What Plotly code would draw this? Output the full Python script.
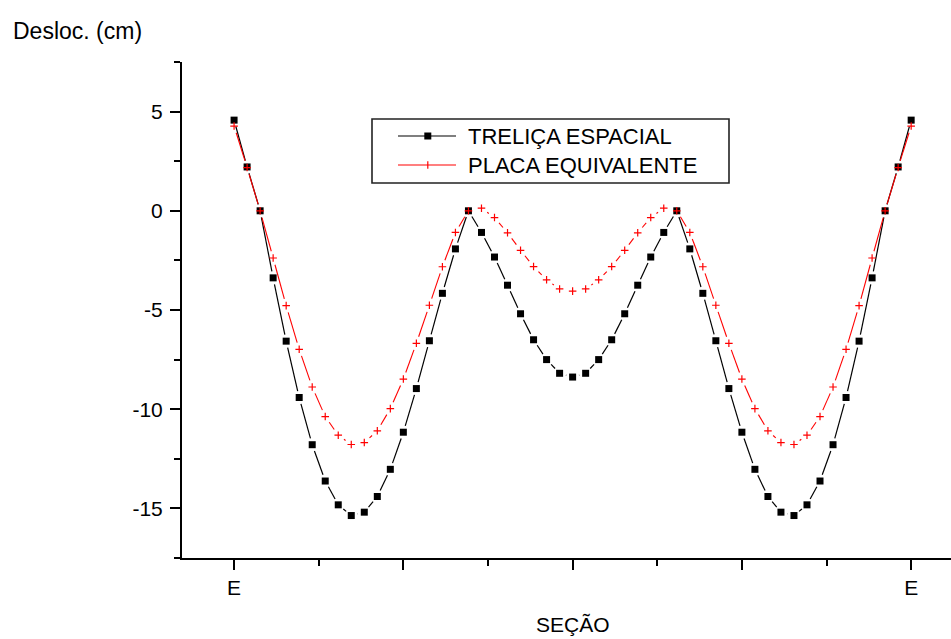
import math
import plotly.graph_objects as go

# Section index along the span (E ... E)
secao = list(range(53))

# Vertical displacement (cm) – space truss model
trelica = [4.57, 2.21, 0.00, -3.38, -6.57, -9.41, -11.79, -13.62, -14.82, -15.36,
           -15.19, -14.40, -13.03, -11.16, -8.96, -6.55, -4.16, -1.92, 0.00, -1.09,
           -2.33, -3.75, -5.19, -6.50, -7.50, -8.19, -8.38, -8.19, -7.50, -6.50,
           -5.19, -3.75, -2.33, -1.09, 0.00, -1.92, -4.16, -6.55, -8.96, -11.16,
           -13.03, -14.40, -15.19, -15.36, -14.82, -13.62, -11.79, -9.41, -6.57, -3.38,
           0.00, 2.21, 4.57]

# Vertical displacement (cm) – equivalent plate model
placa = [4.27, 2.18, 0.00, -2.38, -4.78, -6.98, -8.88, -10.37, -11.31, -11.78,
         -11.68, -11.09, -9.97, -8.48, -6.68, -4.76, -2.82, -1.09, 0.00, 0.13,
         -0.34, -1.11, -1.99, -2.81, -3.48, -3.94, -4.05, -3.94, -3.48, -2.81,
         -1.99, -1.11, -0.34, 0.13, 0.00, -1.09, -2.82, -4.76, -6.68, -8.48,
         -9.97, -11.09, -11.68, -11.78, -11.31, -10.37, -8.88, -6.98, -4.78, -2.38,
         0.00, 2.18, 4.27]

x_tickvals = [0, 13, 26, 39, 52]
x_ticktext = ["E", "", "", "", "E"]
x_minor = [6.5, 19.5, 32.5, 45.5]

y_tickvals = [-15, -10, -5, 0, 5]
y_ticktext = ["-15", "-10", "-5", "0", "5"]

series_names = ["TRELIÇA ESPACIAL", "PLACA EQUIVALENTE"]

# Canvas / plot-area geometry (pixels)
W, H = 951, 639
ML, MR, MT, MB = 182, 0, 62, 81
PW, PH = W - ML - MR, H - MT - MB
XR = [-4.0, 55.06]
YR = [-17.5, 7.5]
SX = PW / (XR[1] - XR[0])
SY = PH / (YR[1] - YR[0])

FONT = "Liberation Sans, Arial, sans-serif"
FS = 21


def gapped_segments(xs, ys, gap):
    """Connect consecutive points, leaving a pixel gap around each symbol."""
    gx, gy = [], []
    for i in range(len(xs) - 1):
        dxp = (xs[i + 1] - xs[i]) * SX
        dyp = (ys[i + 1] - ys[i]) * SY
        length = math.hypot(dxp, dyp)
        if length <= 2 * gap:
            continue
        f = gap / length
        gx += [xs[i] + (xs[i + 1] - xs[i]) * f, xs[i + 1] - (xs[i + 1] - xs[i]) * f, None]
        gy += [ys[i] + (ys[i + 1] - ys[i]) * f, ys[i + 1] - (ys[i + 1] - ys[i]) * f, None]
    return gx, gy


def px_x(p):
    return (p - ML) / PW


def px_y(p):
    return (H - MB - p) / PH


fig = go.Figure()

# Space truss: line + filled squares
lx, ly = gapped_segments(secao, trelica, 6.6)
fig.add_trace(go.Scatter(x=lx, y=ly, mode="lines",
                         line=dict(color="black", width=1.2),
                         hoverinfo="skip", showlegend=False))
fig.add_trace(go.Scatter(x=secao, y=trelica, mode="markers", name=series_names[0],
                         marker=dict(symbol="square", size=7, color="black",
                                     line=dict(width=0)),
                         showlegend=False))

# Equivalent plate: line + thin crosses
lx, ly = gapped_segments(secao, placa, 7.0)
fig.add_trace(go.Scatter(x=lx, y=ly, mode="lines",
                         line=dict(color="red", width=1.1),
                         hoverinfo="skip", showlegend=False))
fig.add_trace(go.Scatter(x=secao, y=placa, mode="markers", name=series_names[1],
                         marker=dict(symbol="cross-thin-open", size=5.4, color="red",
                                     line=dict(color="red", width=1.2)),
                         showlegend=False))

# Legend box drawn in plot-area coordinates
shapes = [
    dict(type="rect", xref="paper", yref="paper",
         x0=px_x(372), x1=px_x(729), y0=px_y(183), y1=px_y(119),
         line=dict(color="#222222", width=1.6), fillcolor="white", layer="above"),
]
annotations = []
rows = [(136, "black", series_names[0]), (165, "red", series_names[1])]
for yrow, col, label in rows:
    shapes.append(dict(type="line", xref="paper", yref="paper",
                       x0=px_x(398), x1=px_x(456), y0=px_y(yrow), y1=px_y(yrow),
                       line=dict(color=col, width=1.2), layer="above"))
    annotations.append(dict(xref="paper", yref="paper", x=px_x(466), y=px_y(yrow),
                            text=label, showarrow=False, xanchor="left", yanchor="middle",
                            font=dict(family=FONT, size=22, color="black")))
# legend symbols
shapes.append(dict(type="rect", xref="paper", yref="paper",
                   x0=px_x(424.3), x1=px_x(431.3), y0=px_y(139.5), y1=px_y(132.5),
                   line=dict(width=0), fillcolor="black", layer="above"))
shapes.append(dict(type="line", xref="paper", yref="paper",
                   x0=px_x(427.8), x1=px_x(427.8), y0=px_y(168.8), y1=px_y(161.2),
                   line=dict(color="red", width=1.2), layer="above"))

# Axis titles
annotations.append(dict(xref="paper", yref="paper", x=px_x(11), y=px_y(31),
                        text="Desloc. (cm)", showarrow=False, xanchor="left",
                        yanchor="middle", font=dict(family=FONT, size=23, color="black")))
annotations.append(dict(xref="x", yref="paper", x=26, y=px_y(624),
                        text="SEÇÃO", showarrow=False, xanchor="center",
                        yanchor="middle", font=dict(family=FONT, size=FS, color="black")))

fig.update_layout(
    width=W, height=H,
    margin=dict(l=ML, r=MR, t=MT, b=MB, pad=0),
    paper_bgcolor="white", plot_bgcolor="white",
    font=dict(family=FONT, size=FS, color="black"),
    shapes=shapes, annotations=annotations,
    showlegend=False,
)

fig.update_xaxes(
    range=XR, showgrid=False, zeroline=False,
    showline=True, linecolor="black", linewidth=2,
    tickmode="array", tickvals=x_tickvals, ticktext=x_ticktext,
    ticks="outside", ticklen=10, tickwidth=2, tickcolor="black",
    minor=dict(tickmode="array", tickvals=x_minor, ticks="outside",
               ticklen=6, tickwidth=2, tickcolor="black"),
    tickfont=dict(family=FONT, size=FS, color="black"),
)
fig.update_yaxes(
    range=YR, showgrid=False, zeroline=False,
    showline=True, linecolor="black", linewidth=2,
    tickmode="array", tickvals=y_tickvals, ticktext=y_ticktext,
    ticks="outside", ticklen=10, tickwidth=2, tickcolor="black",
    ticklabelstandoff=3,
    minor=dict(tick0=0, dtick=2.5, ticks="outside",
               ticklen=6, tickwidth=2, tickcolor="black"),
    tickfont=dict(family=FONT, size=FS, color="black"),
)

fig.write_html("out.html")
